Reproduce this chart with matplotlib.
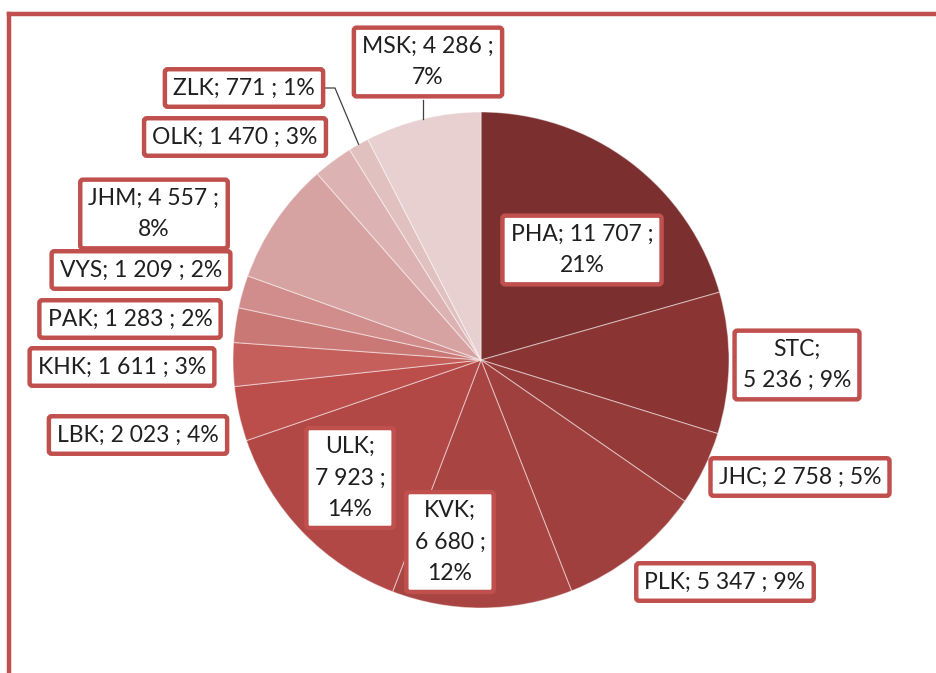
import numpy as np
import matplotlib
matplotlib.use('Agg')
import matplotlib.pyplot as plt
from matplotlib.lines import Line2D

plt.rcParams['font.family'] = ['Lato', 'DejaVu Sans']

# kraje, hodnoty a procenta (po směru hodinových ručiček od 12 h)
regions = ['PHA', 'STC', 'JHC', 'PLK', 'KVK', 'ULK', 'LBK',
           'KHK', 'PAK', 'VYS', 'JHM', 'OLK', 'ZLK', 'MSK']
values = [11707, 5236, 2758, 5347, 6680, 7923, 2023,
          1611, 1283, 1209, 4557, 1470, 771, 4286]
percents = [21, 9, 5, 9, 12, 14, 4, 3, 2, 2, 8, 3, 1, 7]

colors = ['#7B2F2F', '#8A3533', '#943A38', '#A0403E', '#A84442', '#B14846',
          '#BB4E4B', '#C45F5C', '#CA7876', '#D08D8B', '#D6A3A2', '#DCB3B2',
          '#E1C1C0', '#E8D0D0']

RED = '#C0504D'
W, H = 937, 673

# rozmístění popisků: (střed x, střed y v pixelech od shora, styl zalomení)
label_pos = {
    'PHA': (582, 250, 'a'), 'STC': (797, 365, 'b'), 'JHC': (800, 477, 'c'),
    'PLK': (725, 582, 'c'), 'KVK': (450, 542, 'd'), 'ULK': (350, 478, 'd'),
    'LBK': (138, 435, 'c'), 'KHK': (122, 367, 'c'), 'PAK': (130, 319, 'c'),
    'VYS': (141, 270, 'c'), 'JHM': (154, 214, 'a'), 'OLK': (235, 137, 'c'),
    'ZLK': (244, 88, 'c'), 'MSK': (428, 62, 'a'),
}


def fmt(v):
    return f'{v:,}'.replace(',', ' ')


def make_label(name, v, p, style):
    if style == 'a':
        return f'{name}; {fmt(v)} ;\n{p}%'
    if style == 'b':
        return f'{name};\n{fmt(v)} ; {p}%'
    if style == 'd':
        return f'{name};\n{fmt(v)} ;\n{p}%'
    return f'{name}; {fmt(v)} ; {p}%'


fig = plt.figure(figsize=(W / 100, H / 100), dpi=100)
ax = fig.add_axes([0, 0, 1, 1])

cx, cy, r = 481, H - 360, 248
wedges, _ = ax.pie(values, colors=colors, startangle=90, counterclock=False,
                   center=(cx, cy), radius=r, frame=True,
                   wedgeprops=dict(edgecolor=(1, 1, 1, 0.45), linewidth=0.8))
ax.set_xlim(0, W)
ax.set_ylim(0, H)
ax.set_aspect('equal')
ax.axis('off')

for name, v, p in zip(regions, values, percents):
    x, y, style = label_pos[name]
    ax.text(x, H - y, make_label(name, v, p, style), ha='center', va='center',
            fontsize=16.5, color='#1F1F1F', linespacing=1.6, zorder=5,
            bbox=dict(boxstyle='round,pad=0.36,rounding_size=0.12',
                      fc='white', ec=RED, lw=3.2))

# vodicí čáry pro MSK a ZLK
for w, name in zip(wedges, regions):
    ang = np.deg2rad((w.theta1 + w.theta2) / 2)
    px, py = cx + r * np.cos(ang), cy + r * np.sin(ang)
    if name == 'MSK':
        ax.plot([px, px], [py, H - 100], color='#404040', lw=0.9, zorder=4)
    if name == 'ZLK':
        ax.plot([325, 335, px], [H - 88, H - 88, py], color='#404040', lw=0.9,
                zorder=4)

# rám grafu (horní a levá hrana)
fig.add_artist(Line2D([9 / W, 1], [1 - 14 / H, 1 - 14 / H], color=RED, lw=3.2,
                      transform=fig.transFigure, solid_capstyle='projecting'))
fig.add_artist(Line2D([9 / W, 9 / W], [1 - 14 / H, 0], color=RED, lw=3.2,
                      transform=fig.transFigure, solid_capstyle='projecting'))

plt.savefig('out.png', dpi=100, facecolor='white')
plt.close()
